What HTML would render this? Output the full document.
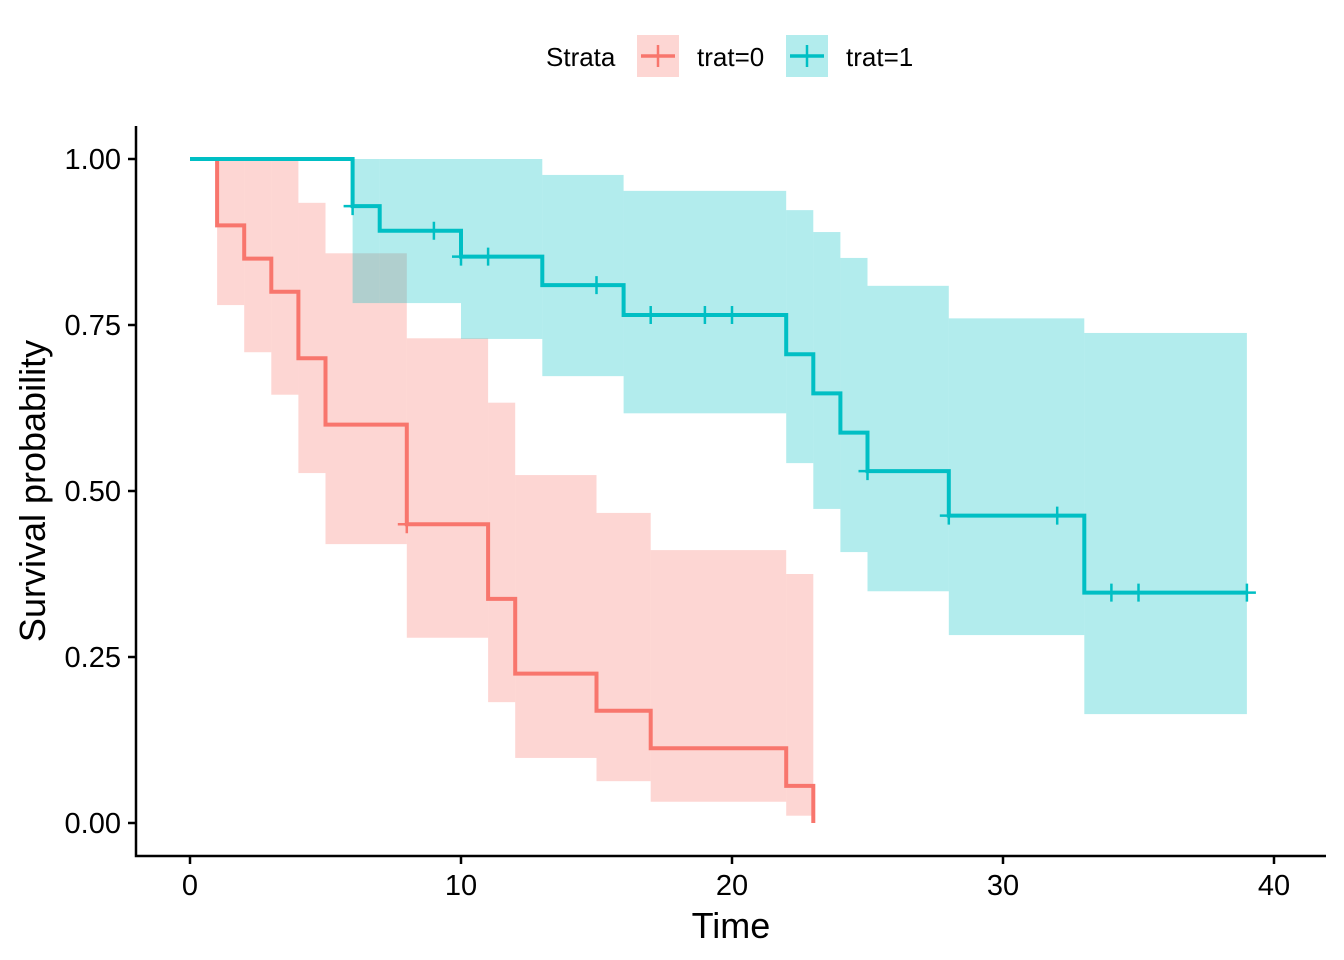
<!DOCTYPE html>
<html><head><meta charset="utf-8"><style>
html,body{margin:0;padding:0;background:#fff;}
svg{display:block;font-family:"Liberation Sans",Arial,sans-serif;}
</style></head><body>
<svg id="chart" width="1344" height="960" viewBox="0 0 1344 960">
<g id="plot"></g>
<g>
<text x="546" y="66" font-size="26" fill="#000">Strata</text>
<g>
<rect x="637" y="35" width="42" height="42" fill="#F8766D" fill-opacity="0.3"/>
<line x1="641" y1="56" x2="675" y2="56" stroke="#F8766D" stroke-width="3.5"/>
<line x1="658" y1="45" x2="658" y2="67" stroke="#F8766D" stroke-width="2.5"/>
<text x="697" y="66" font-size="26">trat=0</text></g>
<g>
<rect x="786" y="35" width="42" height="42" fill="#00BFC4" fill-opacity="0.3"/>
<line x1="790" y1="56" x2="824" y2="56" stroke="#00BFC4" stroke-width="3.5"/>
<line x1="807" y1="45" x2="807" y2="67" stroke="#00BFC4" stroke-width="2.5"/>
<text x="846" y="66" font-size="26">trat=1</text></g>
</g>
</svg>
<script>
const xTicks=[0,10,20,30,40];
const yTicks=[0,0.25,0.5,0.75,1];
const yTickLabels=["0.00","0.25","0.50","0.75","1.00"];
const t0Times=[0,1,2,3,4,5,8,11,12,15,17,22,23];
const t0Surv=[1,0.9,0.85,0.8,0.7,0.6,0.45,0.3375,0.225,0.169,0.1125,0.056,0];
const t0Upper=[1,1,1,1,0.934,0.858,0.73,0.633,0.524,0.467,0.411,0.375,0.375];
const t0Lower=[1,0.78,0.709,0.645,0.527,0.42,0.279,0.182,0.098,0.063,0.032,0.011,0.011];
const t0Censor=[8];
const t0CensorSurv=[0.45];
const t1Times=[0,6,7,10,13,16,22,23,24,25,28,33,39];
const t1Surv=[1,0.929,0.892,0.853,0.81,0.765,0.706,0.647,0.588,0.53,0.463,0.347,0.347];
const t1Upper=[1,1,1,1,0.976,0.952,0.923,0.89,0.851,0.809,0.76,0.738,0.738];
const t1Lower=[1,0.783,0.783,0.729,0.673,0.617,0.542,0.473,0.408,0.349,0.283,0.164,0.164];
const t1Censor=[6,9,10,11,15,17,19,20,25,28,32,34,35,39];
const t1CensorSurv=[0.929,0.892,0.853,0.853,0.81,0.765,0.765,0.765,0.53,0.463,0.463,0.347,0.347,0.347];

const NS="http://www.w3.org/2000/svg";
const X=v=>190+v*27.1, Y=v=>823-v*664;
const g=document.getElementById('plot');
function mk(tag,attrs,parent){const e=document.createElementNS(NS,tag);for(const k in attrs)e.setAttribute(k,attrs[k]);(parent||g).appendChild(e);return e;}

function drawSeries(times,surv,up,lo,cens,censS,color,name,ciStart){
  for(let i=ciStart;i<times.length-1;i++){
    const r=mk('rect',{x:X(times[i]),y:Y(up[i]),width:X(times[i+1])-X(times[i]),height:Y(lo[i])-Y(up[i]),fill:color,'fill-opacity':0.3});
    
    
  }
  let d='M'+X(times[0])+','+Y(surv[0]);
  for(let i=1;i<times.length;i++){d+=' H'+X(times[i])+' V'+Y(surv[i]);}
  const p=mk('path',{d:d,fill:'none',stroke:color,'stroke-width':4});
  
  
  for(let i=0;i<cens.length;i++){
    const cx=X(cens[i]),cy=Y(censS[i]);
    const c=mk('path',{d:`M${cx-9},${cy} H${cx+9} M${cx},${cy-9} V${cy+9}`,stroke:color,'stroke-width':2.5,fill:'none'});
    
    
  }
}
drawSeries(t0Times,t0Surv,t0Upper,t0Lower,t0Censor,t0CensorSurv,'#F8766D','trat0',1);
drawSeries(t1Times,t1Surv,t1Upper,t1Lower,t1Censor,t1CensorSurv,'#00BFC4','trat1',1);

const ax=mk('path',{d:'M136,126 V856 H1326',stroke:'#000','stroke-width':2.5,fill:'none'});


xTicks.forEach(v=>{
  mk('line',{x1:X(v),x2:X(v),y1:856,y2:864,stroke:'#000','stroke-width':2.5});
  const t=mk('text',{x:X(v),y:895,'font-size':29,'text-anchor':'middle',fill:'#000'});
  t.textContent=v;
  
  
});
yTicks.forEach((v,i)=>{
  mk('line',{x1:128,x2:136,y1:Y(v),y2:Y(v),stroke:'#000','stroke-width':2.5});
  const t=mk('text',{x:121,y:Y(v)+10,'font-size':29,'text-anchor':'end',fill:'#000'});
  t.textContent=yTickLabels[i];
  
  
});
const xt=mk('text',{x:731,y:938,'font-size':36,'text-anchor':'middle'});
xt.textContent='Time';


const yt=mk('text',{x:0,y:0,'font-size':36,'text-anchor':'middle',transform:'translate(45,491) rotate(-90)'});
yt.textContent='Survival probability';


</script>
</body></html>
